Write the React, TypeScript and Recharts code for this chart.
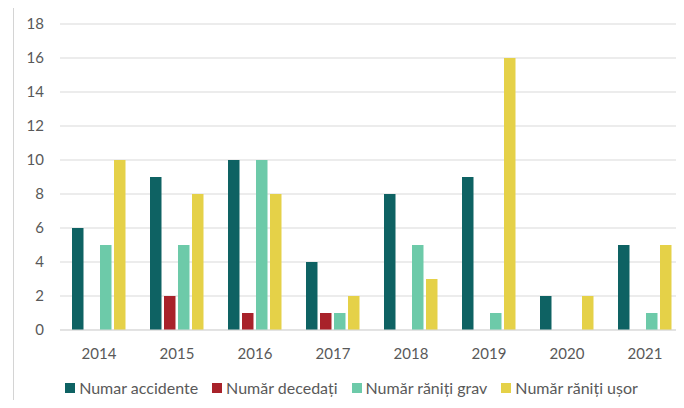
import React from "react";
import { BarChart, Bar, XAxis, YAxis, CartesianGrid, Legend } from "recharts";

const years = ["2014", "2015", "2016", "2017", "2018", "2019", "2020", "2021"];
const accidente = [6, 9, 10, 4, 8, 9, 2, 5];
const decedati = [0, 2, 1, 1, 0, 0, 0, 0];
const ranitiGrav = [5, 5, 10, 1, 5, 1, 0, 1];
const ranitiUsor = [10, 8, 8, 2, 3, 16, 2, 5];
const yTicks = [0, 2, 4, 6, 8, 10, 12, 14, 16, 18];

const seriesNames = ["Numar accidente", "Număr decedați", "Număr răniți grav", "Număr răniți ușor"];
const colors = ["#0e6263", "#a8222a", "#6dcaa9", "#e5d148"];

const data = years.map((y, i) => ({
  year: y,
  a: accidente[i],
  d: decedati[i],
  g: ranitiGrav[i],
  u: ranitiUsor[i],
}));

const FONT = "Lato, 'Open Sans', sans-serif";

const LegendContent = () => (
  <div
    style={{
      display: "flex",
      justifyContent: "center",
      alignItems: "center",
      gap: 14,
      fontFamily: FONT,
      fontSize: 16,
      color: "#595959",
      paddingLeft: 19,
      lineHeight: "20px",
    }}
  >
    {seriesNames.map((n, i) => (
      <div key={n} style={{ display: "flex", alignItems: "center" }}>
        <span
          style={{
            display: "inline-block",
            width: 10,
            height: 10,
            background: colors[i],
            marginRight: 4,
          }}
        />
        <span>{n}</span>
      </div>
    ))}
  </div>
);

export default function App() {
  return (
    <div style={{ position: "relative", width: 684, height: 408, margin: -8, background: "#fff", overflow: "hidden" }}>
      <div style={{ position: "absolute", left: 13, top: 7, width: 1, height: 401, background: "#d4d4d4" }} />
      <BarChart
        width={684}
        height={408}
        data={data}
        margin={{ top: 24, right: 0, bottom: 28, left: 0 }}
        barSize={11.5}
        barGap={2.5}
      >
        <CartesianGrid vertical={false} stroke="#d9d9d9" strokeWidth={1} />
        <YAxis
          width={60}
          domain={[0, 18]}
          ticks={yTicks}
          interval={0}
          axisLine={false}
          tickLine={false}
          tickSize={0}
          tickMargin={16}
          tick={{ fill: "#595959", fontSize: 15, fontFamily: FONT }}
        />
        <XAxis
          dataKey="year"
          axisLine={{ stroke: "#d9d9d9" }}
          tickLine={false}
          tickSize={0}
          tickMargin={18}
          tick={{ fill: "#595959", fontSize: 15, fontFamily: FONT }}
        />
        <Legend
          verticalAlign="bottom"
          content={<LegendContent />}
          wrapperStyle={{ bottom: 10, left: 0, width: 684 }}
        />
        <Bar dataKey="a" name={seriesNames[0]} fill={colors[0]} isAnimationActive={false} />
        <Bar dataKey="d" name={seriesNames[1]} fill={colors[1]} isAnimationActive={false} />
        <Bar dataKey="g" name={seriesNames[2]} fill={colors[2]} isAnimationActive={false} />
        <Bar dataKey="u" name={seriesNames[3]} fill={colors[3]} isAnimationActive={false} />
      </BarChart>
    </div>
  );
}
